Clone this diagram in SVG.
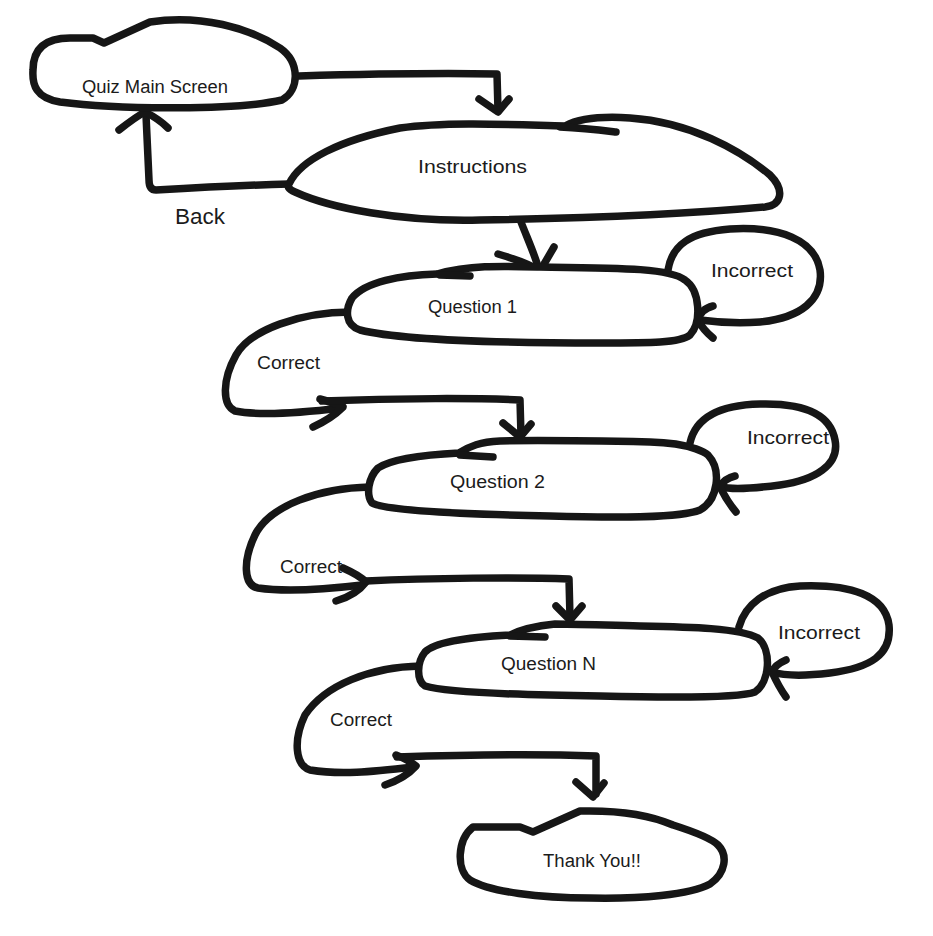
<svg xmlns="http://www.w3.org/2000/svg" width="933" height="936" viewBox="0 0 933 936">
<style>
.ln{fill:none;stroke:#161616;stroke-width:7.5;stroke-linecap:round;stroke-linejoin:round}
.bl{fill:#fff;stroke:#161616;stroke-width:7.5;stroke-linecap:round;stroke-linejoin:round}
text{font-family:"Liberation Sans","DejaVu Sans",sans-serif;font-size:18px;fill:#1b1b1b}
</style>
<rect width="933" height="936" fill="#fff"/>
<g id="connectors">
  <path class="ln" d="M 299 76 C 370 74, 440 73, 497 74 L 498 111"/>
  <path class="ln" d="M 479 99 L 498 112 L 509 99"/>
  <path class="ln" d="M 289 184 C 250 185, 190 188, 156 190 C 151 190, 149 186, 149 180 L 146 115"/>
  <path class="ln" d="M 119 130 C 128 123, 137 116, 145 112 C 153 116, 161 121, 168 128"/>
  <path class="ln" d="M 521 222 C 528 240, 535 255, 539 270"/>
  <path class="ln" d="M 498 254 C 515 259, 530 264, 540 271 L 554 247"/>
  <path class="ln" d="M 668 270 C 672 245, 690 232, 730 229 C 780 226, 815 240, 820 270 C 824 300, 800 318, 760 322 C 735 324, 715 322, 700 320"/>
  <path class="ln" d="M 713 306 C 705 308, 700 312, 698 320 C 702 328, 707 333, 713 338"/>
  <path class="ln" d="M 351 312 C 300 312, 250 330, 236 355 C 222 380, 222 405, 235 411 C 260 416, 300 413, 341 408"/>
  <path class="ln" d="M 320 399 C 328 401, 336 404, 343 407 C 335 415, 324 422, 313 427"/>
  <path class="ln" d="M 322 401 C 400 398, 480 398, 520 400 L 521 436"/>
  <path class="ln" d="M 503 423 L 520 437 L 531 424"/>
  <path class="ln" d="M 690 443 C 695 420, 715 405, 760 404 C 800 403, 830 412, 835 440 C 840 465, 815 480, 780 485 C 750 489, 730 489, 720 487"/>
  <path class="ln" d="M 735 476 C 727 478, 722 482, 720 487 C 725 497, 730 505, 736 512"/>
  <path class="ln" d="M 370 487 C 320 488, 270 505, 255 535 C 243 560, 243 585, 258 588 C 285 592, 320 590, 362 585"/>
  <path class="ln" d="M 343 568 C 352 572, 360 576, 366 582 C 360 590, 350 597, 336 601"/>
  <path class="ln" d="M 366 581 C 430 578, 520 577, 569 579 L 570 618"/>
  <path class="ln" d="M 556 606 L 570 620 L 582 606"/>
  <path class="ln" d="M 739 627 C 745 605, 765 588, 800 586 C 850 584, 885 595, 889 625 C 892 655, 870 668, 830 673 C 805 676, 785 676, 772 672"/>
  <path class="ln" d="M 786 660 C 779 663, 774 667, 772 672 C 777 683, 781 690, 786 697"/>
  <path class="ln" d="M 421 666 C 370 667, 325 685, 305 715 C 293 740, 295 765, 310 770 C 340 775, 370 772, 414 767"/>
  <path class="ln" d="M 396 755 C 404 758, 411 762, 416 766 C 408 775, 397 781, 385 785"/>
  <path class="ln" d="M 397 757 C 460 755, 540 754, 596 756 L 596 794"/>
  <path class="ln" d="M 576 782 L 593 797 L 604 783"/>
</g>
<g id="node-main">
  <path class="bl" d="M 33 70 C 33 45, 50 38, 70 38 L 93 38 L 104 43 L 150 22 C 200 14, 250 28, 280 48 C 300 62, 300 90, 282 100 C 240 110, 120 110, 60 102 C 36 98, 32 85, 33 70 Z"/>
  <text x="82" y="93" textLength="146" lengthAdjust="spacingAndGlyphs">Quiz Main Screen</text>
</g>
<g id="node-instructions">
  <path class="bl" d="M 565 126 C 580 118, 600 116, 630 118 C 690 122, 740 150, 770 175 C 785 190, 782 205, 765 207 C 700 213, 600 218, 480 220 C 400 222, 330 208, 295 192 C 288 189, 287 186, 289 184 C 300 160, 340 140, 400 128 C 450 121, 520 125, 565 126 Z"/>
  <path class="ln" d="M 560 127 C 585 128, 600 130, 616 132"/>
  <text x="418" y="173" textLength="109" lengthAdjust="spacingAndGlyphs" style="font-size:19px">Instructions</text>
</g>
<text x="175" y="224" style="font-size:22px" textLength="50" lengthAdjust="spacingAndGlyphs">Back</text>
<g id="node-q1">
  <path class="bl" d="M 437 274 C 470 265, 500 266, 540 267 C 620 268, 670 268, 685 280 C 700 290, 702 322, 690 335 C 680 343, 650 343, 600 343 C 500 343, 400 340, 360 330 C 345 325, 345 310, 352 298 C 365 282, 400 275, 437 274 Z"/>
  <path class="ln" d="M 440 275 L 470 276"/>
  <text x="428" y="313" textLength="89" lengthAdjust="spacingAndGlyphs">Question 1</text>
</g>
<text x="711" y="277" textLength="82" lengthAdjust="spacingAndGlyphs">Incorrect</text>
<text x="257" y="369" textLength="63" lengthAdjust="spacingAndGlyphs">Correct</text>
<g id="node-q2">
  <path class="bl" d="M 459 453 C 470 446, 480 442, 500 441 C 540 440, 600 441, 650 442 C 695 443, 708 455, 708 455 C 722 470, 718 500, 700 510 C 680 518, 620 518, 550 516 C 450 514, 385 510, 372 503 C 366 495, 368 478, 378 468 C 390 460, 420 455, 459 453 Z"/>
  <path class="ln" d="M 460 455 L 493 457"/>
  <text x="450" y="488" textLength="95" lengthAdjust="spacingAndGlyphs">Question 2</text>
</g>
<text x="747" y="444" textLength="82" lengthAdjust="spacingAndGlyphs">Incorrect</text>
<text x="280" y="573" textLength="62" lengthAdjust="spacingAndGlyphs">Correct</text>
<g id="node-qn">
  <path class="bl" d="M 510 635 C 520 630, 535 626, 555 624 C 570 624, 600 625, 640 626 C 690 627, 740 628, 758 638 C 772 650, 770 682, 755 692 C 740 698, 680 698, 600 696 C 520 695, 445 692, 425 686 C 416 680, 417 662, 425 652 C 435 642, 470 637, 510 635 Z"/>
  <path class="ln" d="M 510 636 L 545 637"/>
  <text x="501" y="670" textLength="95" lengthAdjust="spacingAndGlyphs">Question N</text>
</g>
<text x="778" y="639" textLength="82" lengthAdjust="spacingAndGlyphs">Incorrect</text>
<text x="330" y="726" textLength="62" lengthAdjust="spacingAndGlyphs">Correct</text>
<g id="node-thankyou">
  <path class="bl" d="M 473 827 L 520 827 L 533 832 L 580 811 C 620 810, 650 815, 673 825 C 695 832, 713 840, 718 845 C 728 855, 726 873, 710 884 C 690 895, 640 899, 590 898 C 540 898, 490 892, 470 880 C 456 870, 457 840, 473 827 Z"/>
  <text x="543" y="867" textLength="98" lengthAdjust="spacingAndGlyphs">Thank You!!</text>
</g>
</svg>
